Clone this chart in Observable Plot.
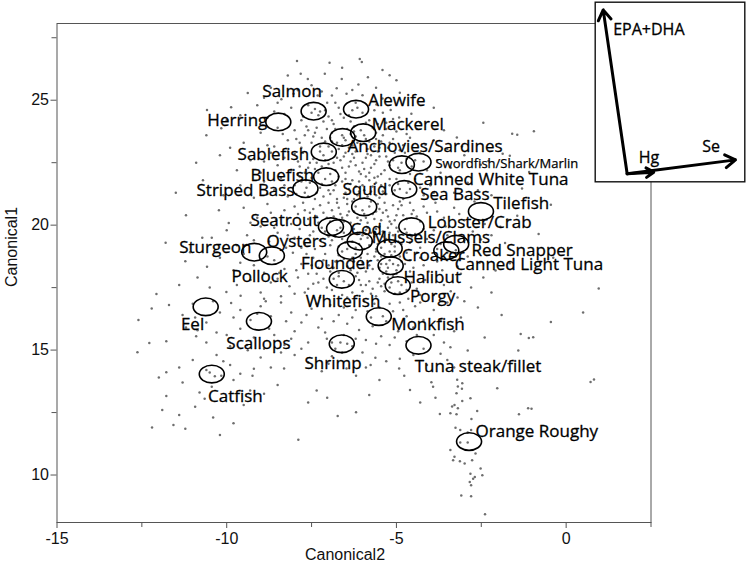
<!DOCTYPE html>
<html><head><meta charset="utf-8">
<script src="https://cdn.jsdelivr.net/npm/d3@7"></script>
<script src="https://cdn.jsdelivr.net/npm/@observablehq/plot@0.6"></script>
<style>
html,body{margin:0;padding:0;background:#fff;}
#wrap{position:relative;width:750px;height:571px;}
#inset{position:absolute;left:594px;top:1px;}
</style></head><body>
<div id="wrap"><div id="main"></div><div id="inset"></div></div>
<script>
const xTicks = [-15, -10, -5, 0];
const xMinorTicks = [-12.5, -7.5, -2.5, 2.5];
const yTicks = [10, 15, 20, 25];
const yMinorTicks = [12.5, 17.5, 22.5, 27.5];

const points = [
[-7.93,26.57],[-6.97,26.5],[-6.08,26.65],[-6.02,26.53],[-5.41,26.21],[-8.2,25.99],[-7.82,26.06],[-6.6,26.3],[-5.2,26.0],
[-7.61,25.85],[-7.11,26.06],[-6.61,25.85],[-5.84,25.92],[-6.12,25.63],[-6.3,25.41],[-6.47,25.26],[-9.38,25.29],[-8.39,25.04],[-8.03,25.26],[-7.32,25.19],[-6.9,25.19],[-6.76,25.48],[-5.41,25.07],[-7.5,25.6],[-8.7,25.5],[-5.6,25.5],[-4.9,25.3],[-7.9,25.4],[-6.0,25.2],[-5.0,25.8],[-8.9,25.1],[-7.2,25.35],
[-7.04,24.9],[-9.87,24.72],[-10.58,24.61],[-5.17,24.61],[-4.92,24.31],[-4.56,24.46],[-5.59,24.83],[-9.6,24.4],[-9.1,24.8],[-8.8,24.3],[-8.1,24.7],[-7.8,24.2],[-7.6,24.8],[-7.3,24.4],[-7.1,24.6],[-6.9,24.2],[-6.7,24.7],[-6.4,24.4],[-6.2,24.9],[-6.0,24.5],[-5.8,24.2],[-5.4,24.5],[-5.9,24.1],[-7.5,24.5],[-7.4,24.65],[-7.25,24.55],[-6.15,24.7],[-6.3,24.6],[-8.5,24.9],[-4.3,24.1],[-3.9,24.7],[-10.0,24.2],[-8.3,24.45],[-6.55,24.3],[-5.1,24.25],[-7.0,24.35],
[-2.44,24.1],[-1.59,23.66],[-1.44,23.62],[-0.95,23.76],[-3.22,23.51],[-3.07,23.15],[-4.14,23.22],[-10.16,23.88],[-9.5,23.3],[-9.0,23.7],[-8.8,23.2],[-8.5,23.9],[-8.2,23.4],[-8.0,23.8],[-7.8,23.1],[-7.7,23.6],[-7.5,23.3],[-7.35,23.9],[-7.2,23.5],[-7.0,23.15],[-6.9,23.7],[-6.75,23.3],[-6.6,23.6],[-6.5,23.4],[-6.45,23.85],[-6.3,23.2],[-6.2,23.55],[-6.05,23.8],[-5.95,23.6],[-5.8,23.35],[-5.7,23.9],[-5.5,23.1],[-5.4,23.6],[-5.2,23.3],[-5.0,23.75],[-4.8,23.2],[-4.6,23.5],[-4.4,23.85],[-3.9,23.4],[-3.6,23.8],[-3.5,23.05],[-9.9,23.1],[-10.6,23.6],[-6.7,23.05],[-7.05,23.85],[-6.35,23.65],[-6.55,23.5],[-5.65,23.15],
[-1.87,22.86],[-1.66,22.78],[-2.51,22.42],[-2.29,22.57],[-1.09,22.13],[-10.9,22.5],[-10.2,22.8],[-9.7,22.2],[-9.3,22.6],[-9.0,22.1],[-8.7,22.9],[-8.5,22.4],[-8.3,22.7],[-8.1,22.2],[-7.9,22.55],[-7.75,22.9],[-7.6,22.3],[-7.45,22.65],[-7.3,22.1],[-7.15,22.8],[-7.0,22.45],[-6.9,22.95],[-6.8,22.2],[-6.65,22.6],[-6.5,22.9],[-6.4,22.35],[-6.25,22.7],[-6.1,22.15],[-6.0,22.5],[-5.85,22.85],[-5.75,22.3],[-5.6,22.6],[-5.45,22.05],[-5.3,22.75],[-5.2,22.4],[-5.05,22.9],[-4.9,22.2],[-4.7,22.65],[-4.55,22.35],[-4.3,22.9],[-4.1,22.2],[-3.8,22.6],[-3.4,22.3],[-3.0,22.8],[-7.25,22.95],[-6.95,22.05],[-6.35,22.55],[-5.95,22.25],[-7.55,22.5],[-8.0,22.85],[-5.55,22.95],[-4.85,22.5],[-4.45,22.6],[-6.75,22.7],
[-1.3,21.47],[-11.5,21.3],[-10.7,21.8],[-10.1,21.2],[-9.6,21.6],[-9.2,21.1],[-8.9,21.75],[-8.6,21.4],[-8.4,21.9],[-8.2,21.15],[-8.0,21.6],[-7.85,21.95],[-7.7,21.3],[-7.55,21.7],[-7.4,21.05],[-7.25,21.5],[-7.1,21.85],[-6.95,21.25],[-6.8,21.6],[-6.7,21.95],[-6.55,21.1],[-6.4,21.45],[-6.3,21.8],[-6.15,21.2],[-6.0,21.6],[-5.9,21.95],[-5.75,21.35],[-5.6,21.7],[-5.5,21.1],[-5.35,21.5],[-5.2,21.85],[-5.1,21.25],[-4.95,21.65],[-4.8,21.05],[-4.6,21.45],[-4.45,21.85],[-4.2,21.2],[-4.0,21.6],[-3.7,21.9],[-3.3,21.3],[-2.9,21.7],[-2.2,21.2],[-7.65,21.5],[-7.0,21.4],[-6.6,21.75],[-6.2,21.55],[-5.85,21.15],[-5.45,21.6],[-7.95,21.25],[-6.45,21.05],[-5.65,21.9],
[-0.45,20.82],[-1.73,20.23],[-1.44,20.38],[-11.2,20.4],[-10.23,20.6],[-9.94,20.09],[-9.5,20.7],[-9.1,20.3],[-8.8,20.85],[-8.55,20.2],[-8.3,20.6],[-8.1,20.05],[-7.9,20.45],[-7.75,20.9],[-7.6,20.25],[-7.45,20.65],[-7.3,20.1],[-7.15,20.5],[-7.0,20.9],[-6.85,20.35],[-6.7,20.7],[-6.55,20.15],[-6.4,20.55],[-6.3,20.95],[-6.15,20.3],[-6.0,20.6],[-5.85,20.1],[-5.7,20.45],[-5.55,20.85],[-5.45,20.2],[-5.3,20.6],[-5.15,20.05],[-5.0,20.4],[-4.85,20.8],[-4.7,20.25],[-4.5,20.6],[-4.3,20.15],[-4.1,20.5],[-3.85,20.9],[-3.6,20.3],[-3.3,20.7],[-3.0,20.2],[-2.7,20.95],[-5.8,20.75],[-6.65,20.45],[-7.25,20.8],[-5.25,20.35],[-4.95,20.65],[-6.05,20.2],[-5.6,20.55],
[-1.94,19.94],[-0.81,19.65],[-2.51,19.43],[-1.8,19.29],[-10.44,19.5],[-10.72,19.5],[-11.8,19.3],[-10.0,19.8],[-9.7,19.2],[-9.4,19.6],[-9.0,19.95],[-8.75,19.35],[-8.5,19.7],[-8.25,19.1],[-8.0,19.5],[-7.85,19.85],[-7.7,19.25],[-7.55,19.6],[-7.4,19.05],[-7.25,19.4],[-7.1,19.75],[-6.95,19.2],[-6.8,19.55],[-6.65,19.9],[-6.5,19.3],[-6.35,19.65],[-6.2,19.1],[-6.05,19.45],[-5.9,19.8],[-5.8,19.2],[-5.65,19.55],[-5.5,19.95],[-5.35,19.35],[-5.2,19.7],[-5.05,19.15],[-4.9,19.5],[-4.75,19.85],[-4.6,19.3],[-4.45,19.65],[-4.3,19.1],[-4.1,19.45],[-3.9,19.8],[-3.7,19.25],[-3.5,19.6],[-3.25,19.0],[-3.0,19.4],[-2.75,19.75],[-6.6,19.45],[-6.0,19.6],[-5.55,19.25],[-5.0,19.9],[-5.75,19.7],[-6.3,19.35],[-5.95,19.05],[-5.4,19.55],
[-11.22,18.56],[-11.08,18.92],[-10.58,18.34],[-2.08,18.19],[-1.66,18.48],[-0.38,18.7],[-10.2,18.7],[-9.8,18.2],[-9.5,18.85],[-9.2,18.4],[-8.9,18.1],[-8.6,18.6],[-8.3,18.25],[-8.05,18.9],[-7.8,18.45],[-7.6,18.05],[-7.45,18.7],[-7.3,18.3],[-7.1,18.85],[-6.95,18.15],[-6.8,18.55],[-6.6,18.95],[-6.45,18.35],[-6.3,18.7],[-6.15,18.1],[-6.0,18.5],[-5.85,18.85],[-5.7,18.25],[-5.55,18.6],[-5.4,18.05],[-5.3,18.45],[-5.15,18.8],[-5.0,18.2],[-4.85,18.55],[-4.7,18.9],[-4.5,18.3],[-4.3,18.7],[-4.05,18.15],[-3.8,18.55],[-3.5,18.9],[-3.2,18.35],[-2.9,18.75],[-5.6,18.95],[-5.25,18.3],[-5.45,18.75],[-4.95,18.4],[-6.25,18.55],
[-12.07,17.24],[-10.86,17.9],[-10.01,17.32],[-9.59,17.17],[-2.44,17.9],[0.96,17.46],[-11.4,17.6],[-10.5,17.5],[-9.3,17.8],[-9.0,17.3],[-8.7,17.7],[-8.4,17.15],[-8.15,17.55],[-7.9,17.9],[-7.7,17.3],[-7.45,17.65],[-7.25,17.1],[-7.05,17.5],[-6.85,17.85],[-6.6,17.2],[-6.4,17.6],[-6.2,17.95],[-6.0,17.35],[-5.8,17.75],[-5.6,17.15],[-5.45,17.55],[-5.25,17.9],[-5.05,17.25],[-4.85,17.6],[-4.65,17.05],[-4.4,17.45],[-4.15,17.8],[-3.9,17.2],[-3.6,17.6],[-3.2,17.1],[-2.8,17.5],[-5.35,17.35],[-5.15,17.7],[-6.55,17.75],[-6.7,17.95],
[-12.21,16.66],[-10.93,16.3],[-9.87,16.88],[0.5,16.5],[-0.45,16.12],[-12.6,16.2],[-11.7,16.8],[-11.3,16.4],[-10.4,16.95],[-10.2,16.5],[-9.6,16.6],[-9.3,16.2],[-9.0,16.75],[-8.7,16.35],[-8.4,16.9],[-8.1,16.5],[-7.8,16.1],[-7.5,16.65],[-7.2,16.25],[-6.95,16.8],[-6.7,16.4],[-6.45,16.05],[-6.2,16.6],[-5.95,16.95],[-5.75,16.3],[-5.5,16.7],[-5.3,16.15],[-5.1,16.55],[-4.9,16.9],[-4.7,16.35],[-4.45,16.75],[-4.2,16.2],[-3.9,16.6],[-3.5,16.9],[-3.1,16.3],[-2.6,16.7],[-1.9,16.4],[-5.65,16.85],[-5.2,16.85],
[-12.28,15.28],[-11.78,15.35],[-10.86,15.79],[-1.34,15.64],[-1.1,15.48],[-0.97,15.51],[-3.41,15.11],[-11.2,15.9],[-10.6,15.3],[-10.3,15.7],[-9.9,15.15],[-9.6,15.85],[-9.2,15.5],[-8.9,15.05],[-8.6,15.6],[-8.3,15.2],[-8.0,15.75],[-7.6,15.3],[-7.3,15.9],[-7.05,15.45],[-6.8,15.05],[-6.55,15.6],[-6.3,15.15],[-6.1,15.8],[-5.9,15.4],[-5.7,15.95],[-5.45,15.55],[-5.2,15.2],[-4.95,15.75],[-4.7,15.35],[-4.5,15.9],[-4.2,15.05],[-3.9,15.6],[-3.6,15.3],[-2.4,15.5],[-6.65,15.3],[-6.45,15.25],
[-12.63,14.91],[-11.78,14.11],[-9.38,14.99],[-8.31,14.26],[-6.47,14.26],[-5.62,14.69],[-5.76,14.4],[-4.92,14.26],[-1.41,14.98],[-2.9,14.98],[-11.0,14.6],[-10.6,14.2],[-10.3,14.8],[-9.9,14.4],[-9.6,14.05],[-9.0,14.7],[-8.7,14.3],[-8.0,14.8],[-7.6,14.5],[-7.2,14.15],[-6.9,14.75],[-6.0,14.9],[-5.3,14.55],[-4.5,14.8],[-4.1,14.4],[-3.7,14.85],[-3.3,14.3],[-10.5,14.1],[-10.35,13.95],
[-11.78,13.16],[-10.44,13.53],[-10.16,13.97],[-9.24,13.97],[-9.31,13.38],[-7.35,13.38],[-7.04,13.09],[-6.19,13.97],[-4.77,13.97],[-3.92,13.53],[-3.85,13.09],[-3.07,13.45],[0.82,13.82],[0.72,13.72],[-2.03,13.47],[-3.97,13.71],[-3.21,13.81],[-3.06,13.67],[-3.19,13.54],[-3.23,13.27],[-2.82,13.07],[-11.3,13.7],[-10.8,13.3],[-9.8,13.8],[-8.5,13.6],[-5.5,13.8],[-4.6,13.4],[-12.0,13.9],
[-11.57,12.0],[-10.93,12.73],[-9.8,12.07],[-6.73,12.36],[-6.19,12.51],[-3.29,12.8],[-1.02,12.65],[-3.06,12.96],[-3.36,12.74],[-3.19,12.67],[-3.41,12.47],[-3.23,12.43],[-2.62,12.56],[-3.72,12.44],[-2.79,12.24],[-1.39,12.43],[-1.12,12.67],[-10.4,12.3],[-11.9,12.6],
[-11.22,11.85],[-7.89,11.41],[-3.26,11.89],[-3.12,11.8],[-2.9,11.7],[-2.8,11.8],[-3.12,11.3],[-2.9,11.3],[-10.2,11.6],[-12.2,11.9],
[-3.41,11.0],[-3.29,10.73],[-3.13,10.55],[-2.99,10.46],[-3.33,10.59],[-2.77,10.59],[-2.67,10.86],
[-2.52,10.26],[-2.47,9.99],[-2.82,10.05],[-2.69,9.92],[-2.74,9.85],[-2.84,9.72],[-2.8,9.59],[-3.09,9.18],[-2.8,9.15],[-2.39,8.43],
[-7.65,23.95],[-6.85,24.05],[-6.25,23.95],[-5.55,24.05],
[-7.95,23.45],[-7.4,23.7],[-7.1,23.35],[-6.8,23.85],[-6.4,23.1],[-6.15,23.3],[-5.85,23.05],[-5.6,23.45],[-5.3,23.85],[-5.1,23.45],[-4.9,23.0],[-7.6,23.8],[-6.95,23.5],[-5.45,23.35],
[-7.85,22.35],[-7.4,22.25],[-7.1,22.6],[-6.6,22.3],[-6.2,22.95],[-5.9,22.7],[-5.65,22.45],[-5.35,22.2],[-5.1,22.6],[-4.75,22.9],[-6.5,22.1],[-6.05,22.05],[-7.2,22.35],[-5.75,22.8],[-4.95,22.3],
[-7.8,21.75],[-7.35,21.3],[-6.9,21.75],[-6.5,21.3],[-6.1,21.75],[-5.7,21.55],[-5.3,21.25],[-5.0,21.85],[-4.7,21.3],[-6.25,21.05],[-5.95,21.4],[-5.55,21.95],[-7.15,21.15],[-6.75,21.05],[-4.9,21.45],[-5.2,21.6],
[-7.55,20.5],[-7.05,20.3],[-6.75,20.9],[-6.45,20.4],[-6.2,20.75],[-5.95,20.45],[-5.75,20.95],[-5.4,20.5],[-5.1,20.8],[-4.8,20.4],[-4.6,20.9],[-6.9,20.6],[-5.65,20.25],[-5.05,20.2],[-6.35,20.1],[-4.4,20.35],
[-7.6,19.45],[-7.2,19.9],[-6.9,19.4],[-6.55,19.7],[-6.25,19.85],[-6.1,19.25],[-5.85,19.5],[-5.6,19.85],[-5.3,19.45],[-5.1,19.6],[-4.85,19.25],[-4.55,19.55],[-6.7,19.15],[-5.45,19.1],[-4.95,19.75],[-5.7,19.35],
[-7.5,18.4],[-7.15,18.6],[-6.85,18.3],[-6.55,18.65],[-6.35,18.2],[-6.05,18.7],[-5.8,18.4],[-5.5,18.3],[-5.2,18.6],[-5.05,18.95],[-4.75,18.45],[-4.6,18.15],[-5.9,18.15],[-5.35,18.85],[-6.7,18.8],[-4.4,18.9],
[-7.3,17.7],[-6.9,17.4],[-6.3,17.3],[-5.9,17.6],[-5.5,17.85],[-5.2,17.5],[-4.95,17.75],[-4.7,17.4],[-6.1,17.8],[-5.7,17.45],
[-7.75,24.35],[-7.15,24.15],[-6.65,24.45],[-6.35,24.15],[-5.65,24.6],[-5.3,24.1],[-8.6,24.55],[-6.8,24.9],
[-8.35,23.65],[-7.85,23.3],[-7.25,23.15],[-6.9,23.35],[-6.6,23.2],[-6.25,23.75],[-5.9,23.45],[-5.6,23.7],[-5.25,23.1],[-4.7,23.65],[-8.6,23.15],[-7.45,23.55],
[-8.9,22.55],[-8.2,22.95],[-7.7,22.1],[-7.35,22.5],[-6.85,22.5],[-6.55,22.75],[-6.2,22.4],[-5.8,22.1],[-5.5,22.75],[-5.25,22.55],[-4.6,22.05],[-4.2,22.55],[-7.9,22.05],[-6.3,22.85],[-3.7,22.1],
[-8.8,21.25],[-8.3,21.6],[-7.5,21.9],[-7.2,21.65],[-6.85,21.4],[-6.5,21.85],[-6.1,21.35],[-5.8,21.8],[-5.4,21.35],[-5.05,21.4],[-4.65,21.7],[-4.3,21.5],[-3.9,21.3],[-6.35,21.65],[-5.6,21.2],[-7.6,21.15],
[-8.7,20.5],[-8.0,20.75],[-7.7,20.6],[-7.35,20.35],[-6.95,20.15],[-6.6,20.3],[-6.25,20.55],[-5.9,20.3],[-5.5,20.65],[-5.2,20.15],[-4.9,20.95],[-4.55,20.45],[-4.2,20.75],[-3.8,20.55],[-6.45,20.85],[-5.35,20.9],[-9.3,20.1],
[-9.2,19.4],[-8.6,19.9],[-8.2,19.6],[-7.8,19.1],[-7.45,19.75],[-7.0,19.55],[-6.75,19.8],[-6.45,19.05],[-6.15,19.7],[-5.85,19.9],[-5.6,19.05],[-5.25,19.9],[-4.95,19.35],[-4.7,19.7],[-4.2,19.85],[-3.8,19.05],[-5.15,19.25],[-5.4,19.75],
[-9.6,18.5],[-8.8,18.75],[-8.45,18.1],[-7.95,18.2],[-7.65,18.85],[-7.35,18.05],[-7.0,18.4],[-6.7,18.1],[-6.2,18.85],[-5.95,18.3],[-5.65,18.75],[-5.45,18.45],[-5.3,18.15],[-5.1,18.45],[-4.9,18.75],[-4.6,18.6],[-4.2,18.4],[-3.65,18.2],[-5.2,18.95],[-5.0,18.05],
[-9.7,17.6],[-8.9,17.05],[-8.5,17.85],[-8.0,17.25],[-7.6,17.45],[-7.15,17.85],[-6.75,17.6],[-6.45,17.1],[-6.05,17.6],[-5.75,17.25],[-5.35,17.65],[-5.1,17.95],[-4.9,17.3],[-4.55,17.7],[-4.3,17.2],[-3.4,17.35],[-5.55,17.7],
[-11.0,16.85],[-10.6,16.1],[-9.8,16.3],[-9.1,16.45],[-8.85,16.95],[-8.25,16.15],[-7.65,16.4],[-7.35,16.85],[-6.85,16.15],[-6.55,16.7],[-6.3,16.3],[-5.85,16.55],[-5.4,16.35],[-4.8,16.6],[-4.3,16.9],[-3.7,16.2],
[-10.9,15.55],[-10.0,15.6],[-9.4,15.2],[-8.75,15.85],[-8.1,15.45],[-7.8,15.05],[-7.1,15.7],[-6.9,15.3],[-6.2,15.45],[-5.6,15.25],[-5.05,15.5],[-4.4,15.6],[-3.3,15.75],
[-11.4,14.3],[-10.1,14.55],[-9.2,14.25],[-8.4,14.9],[-7.0,14.45],[-6.6,14.9],[-5.9,14.3],[-4.9,14.65],[-3.5,14.6],
[-10.65,13.05],[-9.5,12.8],[-8.9,13.25],[-7.6,12.9],[-5.8,13.2],[-4.3,12.9],[-11.4,12.4],
[-3.4,21.95],[-2.6,21.4],[-3.15,20.45],[-2.4,20.05],[-3.55,19.95],[-2.2,19.6],[-3.1,18.05],[-2.55,18.5],[-2.2,17.3],[-3.0,16.95]
];

const ellipseX = [-8.48,-7.44,-6.19,-6.59,-5.98,-7.14,-7.07,-7.68,-4.84,-4.35,-4.77,-5.95,-2.51,-6.93,-6.69,-4.56,-6.08,-6.37,-5.2,-3.24,-3.53,-9.19,-8.67,-5.17,-6.61,-4.96,-10.62,-9.05,-5.52,-6.61,-4.35,-10.44,-2.86];
const ellipseY = [24.13,24.56,24.64,23.51,23.7,22.93,21.94,21.46,22.42,22.52,21.43,20.73,20.55,19.94,19.87,19.94,19.36,18.99,19.07,19.24,18.98,18.92,18.78,18.38,17.83,17.58,16.73,16.15,16.34,15.25,15.19,14.04,11.34];

const labelText = ["Salmon","Alewife","Herring","Mackerel","Anchovies/Sardines","Sablefish","Bluefish","Canned White Tuna","Striped Bass","Squid","Sea Bass","Tilefish","Seatrout","Lobster/Crab","Cod","Mussels/Clams","Oysters","Sturgeon","Red Snapper","Croaker","Flounder","Canned Light Tuna","Pollock","Halibut","Porgy","Whitefish","Eel","Monkfish","Scallops","Shrimp","Tuna steak/fillet","Catfish","Orange Roughy"];
const labelX = [-8.95,-5.83,-10.57,-5.73,-6.44,-9.68,-9.3,-4.51,-10.89,-6.59,-4.3,-2.15,-9.3,-4.08,-6.35,-5.73,-8.83,-11.4,-2.79,-4.84,-7.81,-3.28,-9.86,-4.79,-4.6,-7.67,-11.35,-5.15,-10.01,-7.71,-4.46,-10.55,-2.67];
const labelY = [25.36,25.0,24.19,24.01,23.13,22.84,21.99,21.82,21.38,21.41,21.22,20.85,20.19,20.09,19.81,19.5,19.33,19.09,19.0,18.77,18.45,18.42,17.96,17.92,17.16,16.93,16.02,16.02,15.26,14.45,14.33,13.13,11.72];
const smallLabelText = ["Swordfish/Shark/Marlin"];
const smallLabelX = [-3.85];
const smallLabelY = [22.47];

const vectorNames = ["EPA+DHA", "Hg", "Se"];
const vectorX = [-0.146, 0.162, 0.66];
const vectorY = [1.0, 0.01, 0.085];
const vectorLabelX = [-0.085, 0.071, 0.457];
const vectorLabelY = [0.88, 0.099, 0.162];

const ellipses = ellipseX.map((x, i) => ({x, y: ellipseY[i]}));
const labels = labelText.map((t, i) => ({t, x: labelX[i], y: labelY[i]}));
const smallLabels = smallLabelText.map((t, i) => ({t, x: smallLabelX[i], y: smallLabelY[i]}));
const vectors = vectorNames.map((n, i) => ({n, x: vectorX[i], y: vectorY[i], lx: vectorLabelX[i], ly: vectorLabelY[i]}));

const ellipseSymbol = {
  draw(context) {
    const rx = 12.5, ry = 8.8, k = 0.5523;
    context.moveTo(rx, 0);
    context.bezierCurveTo(rx, k * ry, k * rx, ry, 0, ry);
    context.bezierCurveTo(-k * rx, ry, -rx, k * ry, -rx, 0);
    context.bezierCurveTo(-rx, -k * ry, -k * rx, -ry, 0, -ry);
    context.bezierCurveTo(k * rx, -ry, rx, -k * ry, rx, 0);
    context.closePath();
  }
};

const axisFont = "Liberation Sans, Arial, sans-serif";
const labelFont = "Open Sans, sans-serif";

const main = Plot.plot({
  width: 750, height: 571,
  marginLeft: 56.5, marginRight: 99.5, marginTop: 23, marginBottom: 49,
  x: {domain: [-15, 2.5]},
  y: {domain: [8.1, 28.07]},
  style: {background: "white", fontFamily: axisFont, fontSize: "16px", color: "#111"},
  marks: [
    Plot.dot(points, {x: d => d[0], y: d => d[1], r: 1.25, fill: "#6e6e6e"}),
    Plot.dot(ellipses, {x: "x", y: "y", symbol: ellipseSymbol, fill: "none", stroke: "#000", strokeWidth: 1.6}),
    Plot.text(labels, {x: "x", y: "y", text: "t", textAnchor: "start", lineAnchor: "middle", fontSize: 17, fontFamily: labelFont, fill: "#000", stroke: "#000", strokeWidth: 0.3}),
    Plot.text(smallLabels, {x: "x", y: "y", text: "t", textAnchor: "start", lineAnchor: "middle", fontSize: 13, fontFamily: labelFont, fill: "#000", stroke: "#000", strokeWidth: 0.25}),
    Plot.frame({stroke: "#555"}),
    Plot.axisX({ticks: xTicks, tickSize: 6, tickPadding: 4, fontSize: 16, tickFormat: d => String(d), label: null, stroke: "#555", fill: "#111"}),
    Plot.axisX({ticks: xMinorTicks, tickSize: 5, label: null, stroke: "#555", fill: "none"}),
    Plot.axisY({ticks: yTicks, tickSize: 6, tickPadding: 2, fontSize: 16, tickFormat: d => String(d), label: null, stroke: "#555", fill: "#111"}),
    Plot.axisY({ticks: yMinorTicks, tickSize: 5, label: null, stroke: "#555", fill: "none"}),
    Plot.text(["Canonical2"], {text: d => d, frameAnchor: "bottom", dy: 37, dx: -9, fontSize: 16, fill: "#111"}),
    Plot.text(["Canonical1"], {text: d => d, frameAnchor: "left", dx: -45, dy: 14, rotate: -90, fontSize: 16, fill: "#111"})
  ]
});
document.getElementById("main").appendChild(main);

const inset = Plot.plot({
  width: 151, height: 181, margin: 0,
  x: {domain: [-0.199, 0.721], axis: null},
  y: {domain: [-0.053, 1.051], axis: null},
  style: {background: "transparent", overflow: "visible"},
  marks: [
    Plot.frame({fill: "white", stroke: "#111", strokeWidth: 1.4, inset: 0.7}),
    Plot.arrow(vectors, {x1: d => 0, y1: d => 0, x2: "x", y2: "y", stroke: "#000", strokeWidth: 3, headLength: 6, headAngle: 65}),
    Plot.text(vectors, {x: "lx", y: "ly", text: "n", textAnchor: "start", lineAnchor: "middle", fontSize: 16, fontFamily: labelFont, fill: "#000", stroke: "#000", strokeWidth: 0.3})
  ]
});
document.getElementById("inset").appendChild(inset);
</script>
</body></html>
